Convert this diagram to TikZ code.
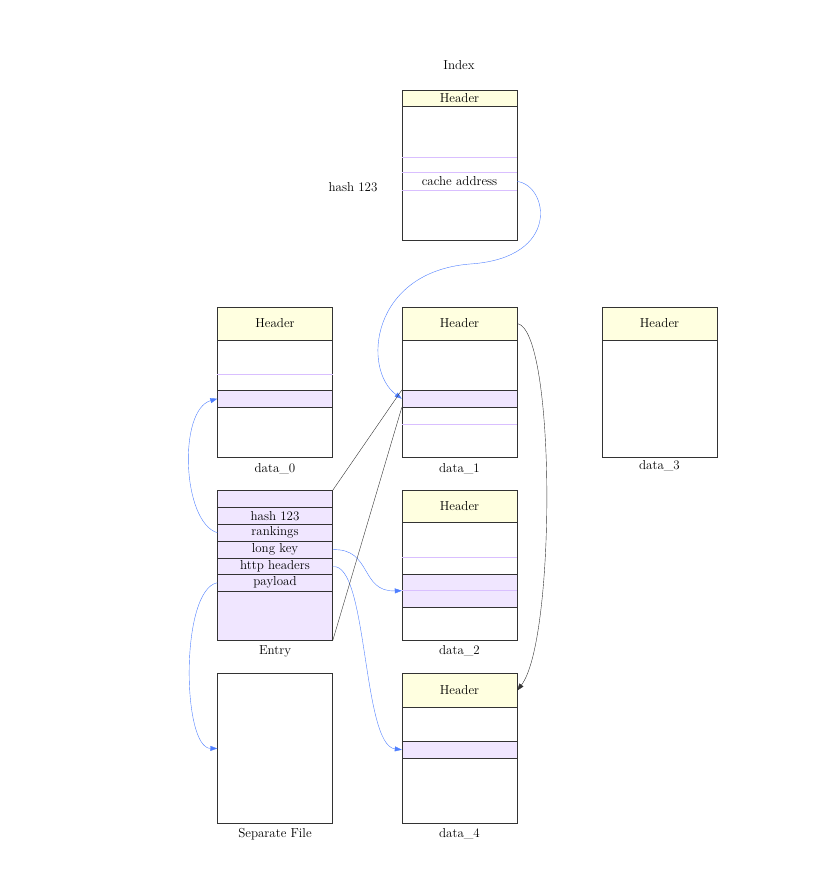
\documentclass[tikz,border=0pt]{standalone}
\usepackage{tikz}
\usetikzlibrary{arrows.meta}

\definecolor{hdr}{HTML}{FFFFE0}
\definecolor{lav}{HTML}{F0E6FF}
\definecolor{lavline}{HTML}{D9BFFF}
\definecolor{ptrblue}{HTML}{4F7FFF}

\tikzset{
  file/.style={draw=black!80, fill=white, minimum width=115pt, minimum height=150pt, inner sep=0pt},
  head/.style={draw=black!80, fill=hdr, minimum width=115pt, inner sep=0pt, anchor=north},
  slot/.style={draw=black!80, fill=lav, minimum width=115pt, minimum height=17pt, inner sep=0pt, anchor=north},
  row/.style={minimum width=115pt, minimum height=17pt, inner sep=0pt},
  ptr/.style={ptrblue, thin, -{Triangle[length=7pt,width=5pt]}},
  link/.style={black!80, thin},
  lavrule/.style={lavline, thick}
}

\begin{document}
\begin{tikzpicture}[x=1pt, y=-1pt, font=\fontsize{13}{15}\selectfont]
    \useasboundingbox (0,0) rectangle (813,875);

    % index file
    \node (index-l) at (459,65) {Index};
    \node[file] (index) at (459.5,165) {};
    \node[head, minimum height=16pt] (index-h) at (index.north) {Header};
    \node[row] (cache) at (459.5,181.5) {cache address};
    \draw[lavrule] (402,157) -- (517,157);
    \draw[lavrule] (cache.north west) -- (cache.north east);
    \draw[lavrule] (cache.south west) -- (cache.south east);
    \node (hash) at (353,187) {hash 123};

    % data_0
    \node[file] (d0) at (275,382) {};
    \node[head, minimum height=33pt] (d0-h) at (d0.north) {Header};
    \draw[lavrule] (217,374) -- (333,374);
    \node[slot] (d0-s) at (275,390) {};
    \node (d0-l) at (275,469) {data\_0};

    % data_1
    \node[file] (d1) at (459.5,382) {};
    \node[head, minimum height=33pt] (d1-h) at (d1.north) {Header};
    \node[slot] (d1-s) at (459.5,390) {};
    \draw[lavrule] (402,424) -- (517,424);
    \node (d1-l) at (459.5,469) {data\_1};

    % data_3
    \node[file] (d3) at (659.5,382) {};
    \node[head, minimum height=33pt] (d3-h) at (d3.north) {Header};
    \node (d3-l) at (659.5,466) {data\_3};

    % entry
    \node[file, fill=lav] (entry) at (275,565.5) {};
    \foreach \y/\t/\n in {507/hash 123/e-hash, 524/rankings/e-rank, 541/long key/e-long,
                          558/http headers/e-http, 574/payload/e-pay}
        \node[slot] (\n) at (275,\y) {\t};
    \node (entry-l) at (275,651) {Entry};

    % data_2
    \node[file] (d2) at (459.5,565.5) {};
    \node[head, minimum height=32pt] (d2-h) at (d2.north) {Header};
    \draw[lavrule] (402,557) -- (517,557);
    \node[slot, minimum height=33pt] (d2-s) at (459.5,574) {};
    \draw[lavrule] (d2-s.west) -- (d2-s.east);
    \node (d2-l) at (459.5,651) {data\_2};

    % data_4
    \node[file] (d4) at (459.5,748.5) {};
    \node[head, minimum height=34pt] (d4-h) at (d4.north) {Header};
    \node[slot] (d4-s) at (459.5,741) {};
    \node (d4-l) at (459.5,834) {data\_4};

    % separate file
    \node[file] (sep) at (275,748.5) {};
    \node (sep-l) at (275,834) {Separate File};

    % pointers
    \draw[ptr] (cache.east) .. controls (548,185) and (562,258) .. (470,264)
                .. controls (370,272) and (362,370) .. (d1-s.west);
    \draw[link, -{Triangle[length=7pt,width=5pt]}] (d1-h.east) .. controls (556,330) and (556,640) .. (d4-h.east);
    \draw[ptr] (e-rank.west) .. controls (182,522) and (178,410) .. (d0-s.west);
    \draw[ptr] (e-long.east) .. controls (372,548) and (360,592) .. (d2-s.west);
    \draw[ptr] (e-http.east) .. controls (368,562) and (362,745) .. (d4-s.west);
    \draw[ptr] (e-pay.west) .. controls (180,590) and (182,748) .. (sep.west);
    \draw[link] (entry.north east) -- (d1-s.north west);
    \draw[link] (entry.south east) -- (d1-s.south west);
\end{tikzpicture}
\end{document}
